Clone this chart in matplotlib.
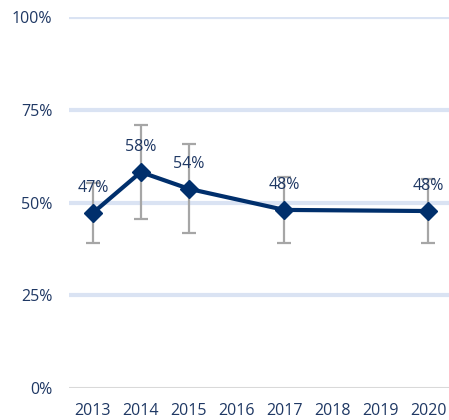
import numpy as np
import matplotlib.pyplot as plt
from matplotlib.ticker import PercentFormatter

# Data
years = ["2013", "2014", "2015", "2016", "2017", "2018", "2019", "2020"]
values = [47.2, 58.2, 53.7, None, 48.0, None, None, 47.7]
err_low = [8.1, 12.6, 11.9, None, 8.9, None, None, 8.6]
err_high = [8.1, 12.7, 12.0, None, 8.9, None, None, 8.6]
labels = ["47%", "58%", "54%", "", "48%", "", "", "48%"]

navy = "#002F6C"
grey = "#A6A6A6"
grid_blue = "#DAE3F3"
text_col = "#1F3864"

plt.rcParams['font.family'] = ['Open Sans', 'DejaVu Sans']

fig = plt.figure(figsize=(4.49, 4.2), dpi=100)
ax = fig.add_axes([69 / 449, 32 / 420, 383 / 449, 371 / 420])

idx = [i for i, v in enumerate(values) if v is not None]
x = np.array(idx)
y = np.array([values[i] for i in idx])
yerr = np.array([[err_low[i] for i in idx], [err_high[i] for i in idx]])

ax.errorbar(x, y, yerr=yerr, fmt='none', ecolor=grey, elinewidth=1.6,
            capsize=5, capthick=1.6, zorder=2)
ax.plot(x, y, color=navy, lw=3, marker='D', markersize=9, zorder=3)

for i in idx:
    ax.annotate(labels[i], (i, values[i]), xytext=(0, 18), textcoords='offset points',
                ha='center', va='center', color=text_col, fontsize=11.5, zorder=4)

# gridlines
for g in [25, 50, 75, 100]:
    ax.axhline(g, color=grid_blue, lw=3, zorder=1)
ax.axhline(0, color="#D9D9D9", lw=1.5, zorder=1)

ax.set_xlim(-0.5, 7.5)
ax.set_ylim(0, 100)
ax.set_xticks(range(len(years)))
ax.set_xticklabels(years)
ax.set_yticks([0, 25, 50, 75, 100])
ax.yaxis.set_major_formatter(PercentFormatter(decimals=0))
ax.tick_params(axis='both', length=0, colors=text_col, labelsize=11.5)
ax.tick_params(axis='y', pad=12)
ax.tick_params(axis='x', pad=11)
for s in ax.spines.values():
    s.set_visible(False)

fig.savefig("out.png", dpi=100)
